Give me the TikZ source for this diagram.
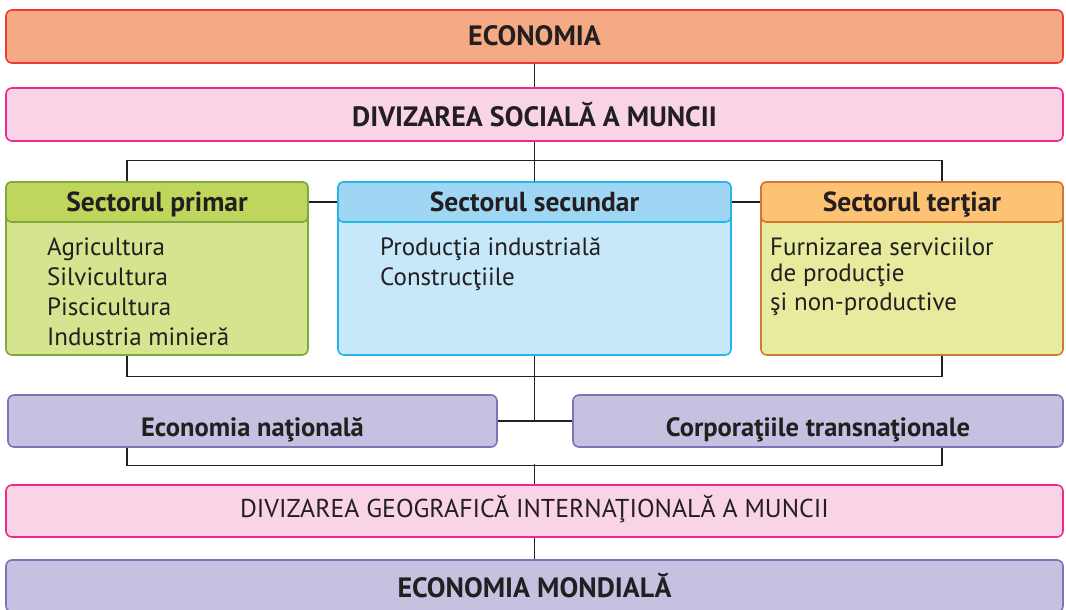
\documentclass[tikz,border=0pt]{standalone}
\usepackage{fontspec}
\setmainfont{PT Sans}
\usetikzlibrary{calc}
\definecolor{txt}{HTML}{231F20}
\definecolor{ecofill}{HTML}{F4AA84}
\definecolor{ecodraw}{HTML}{EE3A34}
\definecolor{pinkfill}{HTML}{F8D4E6}
\definecolor{pinkdraw}{HTML}{EC2A8B}
\definecolor{grhead}{HTML}{BDD65B}
\definecolor{grbody}{HTML}{D5E48F}
\definecolor{grdraw}{HTML}{7FA83F}
\definecolor{blhead}{HTML}{9FD6F3}
\definecolor{blbody}{HTML}{C6E8F9}
\definecolor{bldraw}{HTML}{27B4E9}
\definecolor{orhead}{HTML}{FDC273}
\definecolor{orbody}{HTML}{E6EB9E}
\definecolor{ordraw}{HTML}{D07A2E}
\definecolor{pufill}{HTML}{C5C1E1}
\definecolor{pudraw}{HTML}{7C74B6}
\tikzset{
  box/.style={draw, line width=1.6pt, rounded corners=6pt, inner sep=0pt, text=txt, text height=19pt, text depth=0pt},
  bigbold/.style={font=\fontsize{28}{32}\selectfont\bfseries},
  headbold/.style={font=\fontsize{27.5}{32}\selectfont\bfseries},
  medbold/.style={font=\fontsize{26.5}{30}\selectfont\bfseries},
  regbig/.style={font=\fontsize{25.8}{30}\selectfont},
  bodytxt/.style={font=\fontsize{25}{29}\selectfont, text=txt, anchor=base west, inner sep=0pt},
  conn/.style={draw=txt, line width=1.1pt},
}
\begin{document}
\begin{tikzpicture}[x=1pt,y=-1pt]
\useasboundingbox (0,0) rectangle (1066,610);
\coordinate (L) at (127,0);
\coordinate (R) at (942,0);
% top boxes
\node[box, fill=ecofill, draw=ecodraw, minimum width=1057pt, minimum height=53pt, bigbold] (eco) at (534.5,36.5) {ECONOMIA};
\node[box, fill=pinkfill, draw=pinkdraw, minimum width=1057pt, minimum height=53pt, bigbold] (soc) at (534.5,114.5) {\raisebox{-2pt}{DIVIZAREA SOCIALĂ A MUNCII}};
% sector boxes
\node[box, fill=grbody, draw=grdraw, minimum width=302pt, minimum height=173pt] (prim) at (157,268.5) {};
\node[box, fill=grhead, draw=grdraw, minimum width=302pt, minimum height=40pt, headbold, rounded corners=5pt] (primh) at (157,202) {Sectorul primar};
\node[box, fill=blbody, draw=bldraw, minimum width=393pt, minimum height=173pt] (sec) at (534.5,268.5) {};
\node[box, fill=blhead, draw=bldraw, minimum width=393pt, minimum height=40pt, headbold, rounded corners=5pt] (sech) at (534.5,202) {Sectorul secundar};
\node[box, fill=orbody, draw=ordraw, minimum width=302pt, minimum height=173pt] (ter) at (912,268.5) {};
\node[box, fill=orhead, draw=ordraw, minimum width=302pt, minimum height=40pt, headbold, rounded corners=5pt] (terh) at (912,202) {Sectorul terţiar};
% body texts
\node[bodytxt] (p1) at (47,255) {Agricultura};
\node[bodytxt] (p2) at (47,285) {Silvicultura};
\node[bodytxt] (p3) at (47,315) {Piscicultura};
\node[bodytxt] (p4) at (47,345) {Industria minieră};
\node[bodytxt] (s1) at (380,255) {Producţia industrială};
\node[bodytxt] (s2) at (380,285) {Construcţiile};
\node[bodytxt] (t1) at (770,255) {Furnizarea serviciilor};
\node[bodytxt] (t2) at (770,281) {de producţie};
\node[bodytxt] (t3) at (770,310) {şi non-productive};
% middle boxes
\node[box, fill=pufill, draw=pudraw, minimum width=489pt, minimum height=52pt, medbold] (nat) at (252.5,421) {\raisebox{-6pt}{Economia naţională}};
\node[box, fill=pufill, draw=pudraw, minimum width=490pt, minimum height=52pt, medbold] (corp) at (818,421) {\raisebox{-6pt}{Corporaţiile transnaţionale}};
% bottom boxes
\node[box, fill=pinkfill, draw=pinkdraw, minimum width=1057pt, minimum height=52pt, regbig] (geo) at (534.5,511) {\raisebox{3pt}{DIVIZAREA GEOGRAFICĂ INTERNAŢIONALĂ A MUNCII}};
\node[box, fill=pufill, draw=pudraw, minimum width=1057pt, minimum height=52pt, bigbold] (mond) at (534.5,586) {\raisebox{-2pt}{ECONOMIA MONDIALĂ}};
% connectors
\draw[conn] (eco.south) -- (soc.north);
\draw[conn] (soc.south) -- (sec.north);
\draw[conn] (prim.north -| L) -- ++(0,-21) -| (ter.north -| R);
\draw[conn] (primh.east) -- (sech.west);
\draw[conn] (sech.east) -- (terh.west);
\draw[conn] (prim.south -| L) -- ++(0,21) -| (ter.south -| R);
\draw[conn] (sec.south) -- (sec.south |- nat.east);
\draw[conn] (nat.east) -- (corp.west);
\draw[conn] (nat.south -| L) -- ++(0,18) -| (corp.south -| R);
\draw[conn] (geo.north) -- ++(0,-20);
\draw[conn] (geo.south) -- (mond.north);
\end{tikzpicture}
\end{document}
